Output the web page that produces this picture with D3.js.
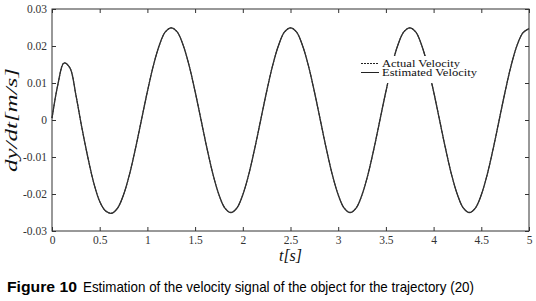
<!DOCTYPE html>
<html>
<head>
<meta charset="utf-8">
<script src="https://cdn.jsdelivr.net/npm/d3@7"></script>
<style>
  html, body { margin: 0; padding: 0; background: #fff; }
  svg { display: block; }
</style>
</head>
<body>
<svg id="chart" width="536" height="301"></svg>
<script>
// ---------------------------  DATA  ---------------------------
// Sample times [s], read every 0.0625 s along the curve
const sample_t = [
  0, 0.0625, 0.125, 0.1875, 0.25, 0.3125, 0.375, 0.4375, 0.5, 0.5625,
  0.625, 0.6875, 0.75, 0.8125, 0.875, 0.9375, 1.0, 1.0625, 1.125, 1.1875,
  1.25, 1.3125, 1.375, 1.4375, 1.5, 1.5625, 1.625, 1.6875, 1.75, 1.8125,
  1.875, 1.9375, 2.0, 2.0625, 2.125, 2.1875, 2.25, 2.3125, 2.375, 2.4375,
  2.5, 2.5625, 2.625, 2.6875, 2.75, 2.8125, 2.875, 2.9375, 3.0, 3.0625,
  3.125, 3.1875, 3.25, 3.3125, 3.375, 3.4375, 3.5, 3.5625, 3.625, 3.6875,
  3.75, 3.8125, 3.875, 3.9375, 4.0, 4.0625, 4.125, 4.1875, 4.25, 4.3125,
  4.375, 4.4375, 4.5, 4.5625, 4.625, 4.6875, 4.75, 4.8125, 4.875, 4.9375,
  5.0
];

// Actual velocity dy/dt [m/s]
const actual_v = [
  0.0005, 0.0097, 0.0154, 0.0141, 0.0068, -0.0020, -0.0100, -0.0170, -0.0220, -0.0246,
  -0.0252, -0.0238, -0.0202, -0.0147, -0.0077, 0.0000, 0.0077, 0.0147, 0.0202, 0.0238,
  0.0249, 0.0238, 0.0202, 0.0147, 0.0077, 0.0000, -0.0077, -0.0147, -0.0202, -0.0238,
  -0.0250, -0.0238, -0.0202, -0.0147, -0.0077, 0.0000, 0.0077, 0.0147, 0.0202, 0.0238,
  0.0249, 0.0238, 0.0202, 0.0147, 0.0077, 0.0000, -0.0077, -0.0147, -0.0202, -0.0238,
  -0.0250, -0.0238, -0.0202, -0.0147, -0.0077, 0.0000, 0.0077, 0.0147, 0.0202, 0.0238,
  0.0249, 0.0238, 0.0202, 0.0147, 0.0077, 0.0000, -0.0077, -0.0147, -0.0202, -0.0238,
  -0.0250, -0.0238, -0.0202, -0.0147, -0.0077, 0.0000, 0.0077, 0.0147, 0.0202, 0.0236,
  0.0247
];

// Estimated velocity -- lies on top of the actual one in the picture
const estimated_v = [
  0.0005, 0.0097, 0.0154, 0.0141, 0.0068, -0.0020, -0.0100, -0.0170, -0.0220, -0.0246,
  -0.0252, -0.0238, -0.0202, -0.0147, -0.0077, 0.0000, 0.0077, 0.0147, 0.0202, 0.0238,
  0.0249, 0.0238, 0.0202, 0.0147, 0.0077, 0.0000, -0.0077, -0.0147, -0.0202, -0.0238,
  -0.0250, -0.0238, -0.0202, -0.0147, -0.0077, 0.0000, 0.0077, 0.0147, 0.0202, 0.0238,
  0.0249, 0.0238, 0.0202, 0.0147, 0.0077, 0.0000, -0.0077, -0.0147, -0.0202, -0.0238,
  -0.0250, -0.0238, -0.0202, -0.0147, -0.0077, 0.0000, 0.0077, 0.0147, 0.0202, 0.0238,
  0.0249, 0.0238, 0.0202, 0.0147, 0.0077, 0.0000, -0.0077, -0.0147, -0.0202, -0.0238,
  -0.0250, -0.0238, -0.0202, -0.0147, -0.0077, 0.0000, 0.0077, 0.0147, 0.0202, 0.0236,
  0.0247
];

const x_ticks = [0, 0.5, 1, 1.5, 2, 2.5, 3, 3.5, 4, 4.5, 5];
const y_ticks = [-0.03, -0.02, -0.01, 0, 0.01, 0.02, 0.03];
const x_tick_labels = ["0", "0.5", "1", "1.5", "2", "2.5", "3", "3.5", "4", "4.5", "5"];
const y_tick_labels = ["-0.03", "-0.02", "-0.01", "0", "0.01", "0.02", "0.03"];
const legend_labels = ["Actual Velocity", "Estimated Velocity"];

// ---------------------------  PLOT  ---------------------------
const svg = d3.select("#chart");
const box = { left: 52, right: 529, top: 9, bottom: 231 };
const serif = "'Liberation Serif', 'Times New Roman', serif";

const x = d3.scaleLinear().domain([0, 5]).range([box.left, box.right]);
const y = d3.scaleLinear().domain([-0.03, 0.03]).range([box.bottom, box.top]);

const pts = (vals) => sample_t.map((t, i) => [t, vals[i]]);
const line = d3.line()
    .x(d => x(d[0]))
    .y(d => y(d[1]))
    .curve(d3.curveCatmullRom.alpha(0.5));

// estimated (solid) first, actual (dashed) on top
svg.append("path")
    .attr("d", line(pts(estimated_v)))
    .attr("fill", "none")
    .attr("stroke", "#2a2a2a")
    .attr("stroke-width", 1.3);

svg.append("path")
    .attr("d", line(pts(actual_v)))
    .attr("fill", "none")
    .attr("stroke", "#333")
    .attr("stroke-width", 1.1)
    .attr("stroke-dasharray", "2,1");

// axes: inward ticks on all four sides, MATLAB style
const tickFont = g => g.selectAll("text")
    .style("font-family", serif).style("font-size", "11.5px").attr("fill", "#333");

const xi = d3.scaleOrdinal().domain(x_ticks).range(x_tick_labels);
const yi = d3.scaleOrdinal().domain(y_ticks).range(y_tick_labels);

svg.append("g")
    .attr("transform", `translate(0,${box.bottom})`)
    .call(d3.axisBottom(x).tickValues(x_ticks).tickSize(-4).tickPadding(5).tickFormat(xi))
    .call(tickFont)
    .call(g => g.select(".domain").remove());

svg.append("g")
    .attr("transform", `translate(0,${box.top})`)
    .call(d3.axisTop(x).tickValues(x_ticks).tickSize(-4).tickFormat(""))
    .call(g => g.select(".domain").remove());

svg.append("g")
    .attr("transform", `translate(${box.left},0)`)
    .call(d3.axisLeft(y).tickValues(y_ticks).tickSize(-4).tickPadding(5).tickFormat(yi))
    .call(tickFont)
    .call(g => g.select(".domain").remove());

svg.append("g")
    .attr("transform", `translate(${box.right},0)`)
    .call(d3.axisRight(y).tickValues(y_ticks).tickSize(-4).tickFormat(""))
    .call(g => g.select(".domain").remove());

svg.selectAll(".tick line").attr("stroke", "#333");

svg.append("rect")
    .attr("x", box.left).attr("y", box.top)
    .attr("width", box.right - box.left).attr("height", box.bottom - box.top)
    .attr("fill", "none").attr("stroke", "#333").attr("stroke-width", 1);

// axis titles
svg.append("text")
    .attr("x", x(2.5)).attr("y", 261)
    .attr("text-anchor", "middle")
    .style("font-family", serif).style("font-style", "italic").style("font-size", "16px")
    .attr("fill", "#111")
    .text("t[s]");

svg.append("text")
    .attr("transform", `translate(17,${y(0)}) rotate(-90)`)
    .attr("text-anchor", "middle")
    .style("font-family", serif).style("font-style", "italic").style("font-size", "16px")
    .attr("fill", "#111")
    .attr("textLength", 104).attr("lengthAdjust", "spacingAndGlyphs")
    .text("dy/dt[m/s]");

// legend (white box, no border)
const leg = svg.append("g");
leg.append("rect")
    .attr("x", 356).attr("y", 56).attr("width", 126).attr("height", 27)
    .attr("fill", "#fff");
legend_labels.forEach((lab, i) => {
    const ly = 63.5 + i * 9;
    leg.append("line")
        .attr("x1", 361).attr("x2", 379).attr("y1", ly).attr("y2", ly)
        .attr("stroke", "#222").attr("stroke-width", 1)
        .attr("stroke-dasharray", i === 0 ? "2,1" : null);
    leg.append("text")
        .attr("x", 382).attr("y", ly + 3.8)
        .style("font-family", serif).style("font-size", "10px").attr("fill", "#111")
        .attr("textLength", i === 0 ? 78 : 95).attr("lengthAdjust", "spacingAndGlyphs")
        .text(lab);
});

// caption
svg.append("text")
    .attr("x", 7).attr("y", 292)
    .style("font-family", "'Liberation Sans', Arial, sans-serif")
    .style("font-size", "15px").style("font-weight", "bold").attr("fill", "#000")
    .attr("textLength", 70).attr("lengthAdjust", "spacingAndGlyphs")
    .text("Figure 10");

svg.append("text")
    .attr("x", 83).attr("y", 292)
    .style("font-family", "'Liberation Sans', Arial, sans-serif")
    .style("font-size", "15px").attr("fill", "#000")
    .attr("textLength", 391).attr("lengthAdjust", "spacingAndGlyphs")
    .text("Estimation of the velocity signal of the object for the trajectory (20)");
</script>
</body>
</html>
